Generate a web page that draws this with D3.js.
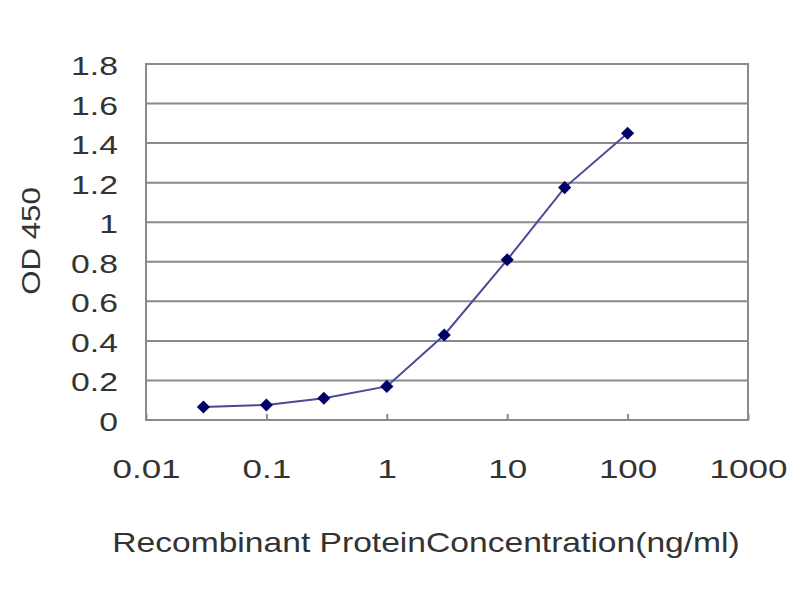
<!DOCTYPE html>
<html>
<head>
<meta charset="utf-8">
<script src="https://cdn.jsdelivr.net/npm/d3@7"></script>
<style>
  body { margin: 0; background: #fff; }
  text { font-family: "Liberation Sans", Arial, sans-serif; fill: #333; }
</style>
</head>
<body>
<div class="graph"></div>
<script>
// data
var concentrations = [0.03, 0.1, 0.3, 1, 3, 10, 30, 100];
var odValues = [0.066, 0.076, 0.11, 0.17, 0.43, 0.81, 1.175, 1.45];
var xTicks = [0.01, 0.1, 1, 10, 100, 1000];
var yTicks = [0, 0.2, 0.4, 0.6, 0.8, 1, 1.2, 1.4, 1.6, 1.8];

// set the dimensions and margins of the graph
var margin = {top: 64, right: 52, bottom: 180, left: 146},
    width = 800 - margin.left - margin.right,
    height = 600 - margin.top - margin.bottom;

var x = d3.scaleLog().domain([0.01, 1000]).range([0, width]);
var y = d3.scaleLinear().domain([0, 1.8]).range([height, 0]);

var svg = d3.select(".graph").append("svg")
    .attr("width", 800)
    .attr("height", 600)
  .append("g")
    .attr("transform", "translate(" + margin.left + "," + margin.top + ")");

// the original text is drawn wide, so stretch it sideways
function widen(sel, k) {
  sel.each(function() {
    var len = this.getComputedTextLength();
    d3.select(this)
      .attr("textLength", len * k)
      .attr("lengthAdjust", "spacingAndGlyphs");
  });
}

// gridlines
svg.selectAll("line.grid")
    .data(yTicks.slice(1))
    .enter().append("line")
    .attr("class", "grid")
    .attr("x1", 0).attr("x2", width)
    .attr("y1", function(d) { return y(d); })
    .attr("y2", function(d) { return y(d); })
    .style("stroke", "#8a8a8a")
    .style("stroke-width", 2);

// plot border
svg.append("rect")
    .attr("width", width).attr("height", height)
    .style("fill", "none")
    .style("stroke", "#8a8a8a")
    .style("stroke-width", 2);

// X axis
var xAxis = svg.append("g")
    .attr("transform", "translate(0," + height + ")")
    .call(d3.axisBottom(x).tickValues(xTicks).tickSize(-6).tickPadding(40)
      .tickFormat(function(d) { return d3.format("~g")(d); }));
xAxis.select(".domain").remove();
xAxis.selectAll(".tick line").style("stroke", "#8a8a8a").style("stroke-width", 2);
xAxis.selectAll("text").style("font-size", "25px").style("fill", "#333")
    .style("font-family", "Liberation Sans, Arial, sans-serif")
    .call(widen, 1.4);

// Y axis
var yAxis = svg.append("g")
    .call(d3.axisLeft(y).tickValues(yTicks).tickSize(0).tickPadding(28)
      .tickFormat(function(d) { return d3.format("~g")(d); }));
yAxis.select(".domain").remove();
yAxis.selectAll("text").style("font-size", "25px").style("fill", "#333")
    .style("font-family", "Liberation Sans, Arial, sans-serif")
    .attr("dy", "0.42em")
    .call(widen, 1.35);

// the line
var valueline = d3.line()
    .x(function(d, i) { return x(concentrations[i]); })
    .y(function(d) { return y(d); });

svg.append("path")
    .datum(odValues)
    .style("fill", "none")
    .style("stroke", "#4a4a9a")
    .style("stroke-width", 2)
    .attr("d", valueline);

// diamond markers
svg.selectAll("path.dot")
    .data(odValues)
    .enter().append("path")
    .attr("class", "dot")
    .attr("d", d3.symbol().type(d3.symbolDiamond2).size(110))
    .attr("transform", function(d, i) {
      return "translate(" + x(concentrations[i]) + "," + y(d) + ")";
    })
    .style("fill", "#000066");

// axis titles
svg.append("text")
    .attr("x", 426 - margin.left)
    .attr("y", 552 - margin.top)
    .attr("text-anchor", "middle")
    .style("font-size", "28px")
    .text("Recombinant ProteinConcentration(ng/ml)")
    .call(widen, 1.2);

svg.append("text")
    .attr("transform", "translate(" + (40 - margin.left) + "," + (241 - margin.top) + ") rotate(-90)")
    .attr("text-anchor", "middle")
    .style("font-size", "26px")
    .text("OD 450")
    .call(widen, 1.2);
</script>
</body>
</html>
